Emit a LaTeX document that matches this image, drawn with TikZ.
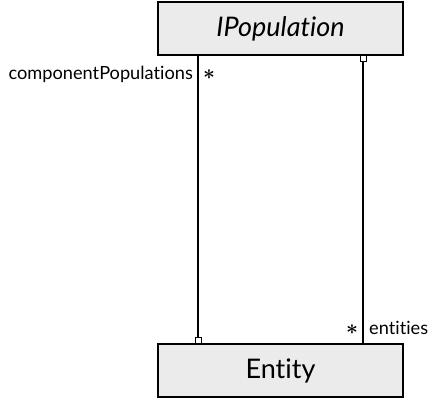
\documentclass[tikz,border=0pt]{standalone}
\usepackage{fontspec}
\setmainfont{Lato}[Ligatures={NoCommon,TeX}]
\begin{document}
\begin{tikzpicture}[x=1pt,y=-1pt,
  classbox/.style={draw=black, line width=1.6pt, fill=boxgrey, minimum width=245pt, minimum height=53pt, inner sep=0pt, font=\fontsize{27}{30}\selectfont},
  assoc/.style={draw=black, line width=1.4pt},
  endsq/.style={draw=black, line width=1pt, fill=white, minimum size=6pt, inner sep=0pt},
  lbl/.style={font=\fontsize{18.2}{20}\selectfont, inner sep=0pt},
  star/.style={font=\fontsize{20}{22}\selectfont\boldmath, inner sep=0pt}]
\definecolor{boxgrey}{HTML}{EBEBEB}
\useasboundingbox (0,0) rectangle (434,400);
\node[classbox] (pop) at (280.5,28.5) {\itshape IPopulation};
\node[classbox] (ent) at (280.5,370.5) {Entity};
\coordinate (lt) at (198,55.5);
\coordinate (lb) at (198,337);
\coordinate (rt) at (363,61);
\coordinate (rb) at (363,343);
\draw[assoc] (lt) -- (lb);
\draw[assoc] (rt) -- (rb);
\node[endsq] (sqb) at (198,340) {};
\node[endsq] (sqt) at (363,58) {};
\node[lbl, anchor=east] (cp) at (193,74) {componentPopulations};
\node[star] (s1) at (209,75) {$\ast$};
\node[star] (s2) at (352,330) {$\ast$};
\node[lbl, anchor=west] (en) at (369,328) {entities};
\end{tikzpicture}
\end{document}
